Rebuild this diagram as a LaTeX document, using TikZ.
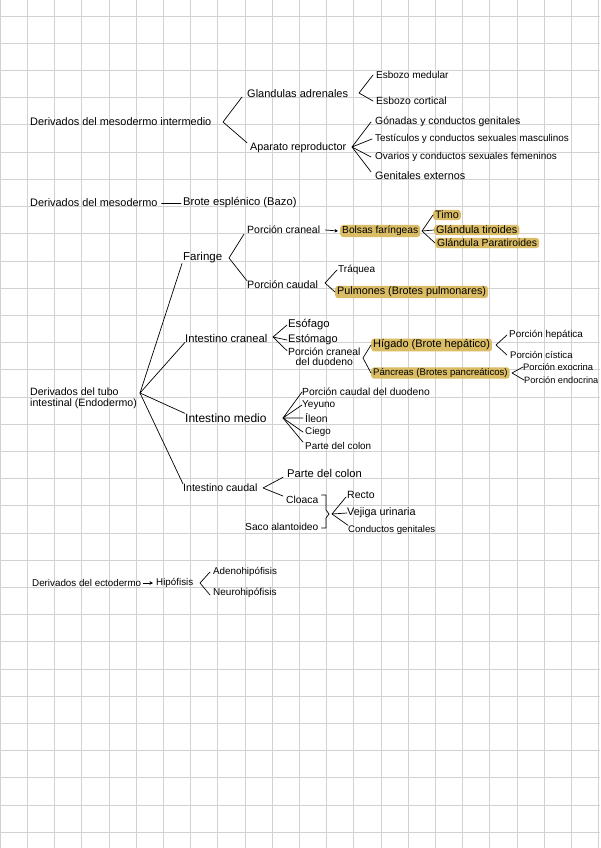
\documentclass[tikz,border=0pt]{standalone}
\usepackage{fontspec}
\setmainfont{Liberation Sans}
\usetikzlibrary{arrows.meta,positioning}
\definecolor{GridC}{RGB}{210,210,210}
\definecolor{HiGold}{RGB}{217,188,99}
\tikzset{
  lbl/.style={anchor=west,inner sep=0pt,font=\fontsize{#1}{#1}\selectfont},
  lbl/.default=10,
  hl/.style={fill=HiGold,rounded corners=3pt,inner xsep=2pt,inner ysep=1.2pt},
  gridln/.style={GridC,line width=0.6pt},
  link/.style={line width=0.7pt,line cap=round,line join=round},
  arr/.style={link,-{Stealth[length=3.5pt,width=3.5pt]}},
}

\begin{document}
\begin{tikzpicture}[x=1pt,y=-1pt]
  \useasboundingbox (0,0) rectangle (600,848);
  \fill[white] (0,0) rectangle (600,848);
  % grid paper
  \foreach \gx in {0,...,22} \draw[gridln] (\gx*27.2,0) -- (\gx*27.2,848);
  \foreach \gy in {0,...,30} \draw[gridln] (0,16+\gy*27.2) -- (600,16+\gy*27.2);

  % mesodermo intermedio
  \node[lbl=10.9] (mi)  at (30,122)  {Derivados del mesodermo intermedio};
  \node[lbl=11]   (ga)  at (247,94)  {Glandulas adrenales};
  \node[lbl=10.8] (ap)  at (250,148) {Aparato reproductor};
  \node[lbl=10]   (em)  at (376,75)  {Esbozo medular};
  \node[lbl=10.4] (ec)  at (376,101) {Esbozo cortical};
  \node[lbl=10.4] (gon) at (375,122) {Gónadas y conductos genitales};
  \node[lbl=9.9]  (tes) at (375,139) {Testículos y conductos sexuales masculinos};
  \node[lbl=10]   (ova) at (375,157) {Ovarios y conductos sexuales femeninos};
  \node[lbl=10.8] (gen) at (375,176) {Genitales externos};
  \coordinate (miT) at (223,122);
  \coordinate (gaT) at (359,93);
  \coordinate (apT) at (352,147);
  \draw[link] ([xshift=-5pt,yshift=-3pt]ga.west) -- (miT) -- ([xshift=-3pt]ap.north west);
  \draw[link] ([xshift=-3pt]em.west) -- (gaT) -- ([xshift=-3pt]ec.west);
  \draw[link] ([xshift=-4pt]gon.west) -- (apT) -- ([xshift=-3pt]tes.west);
  \draw[link] ([xshift=-4pt]ova.west) -- (apT) -- ([xshift=-4pt]gen.north west);

  % mesodermo
  \node[lbl=10.9] (md) at (30,203)  {Derivados del mesodermo};
  \node[lbl=11.2] (be) at (183,203) {Brote esplénico (Bazo)};
  \draw[link] ([xshift=4pt]md.east) -- ([xshift=-2pt]be.west);

  % tubo intestinal
  \node[lbl=10.6,align=left] (en) at (30,398) {Derivados del tubo\\intestinal (Endodermo)};
  \node[lbl=11.5] (fa) at (183,258) {Faringe};
  \node[lbl=11.2] (ic) at (185,338) {Intestino craneal};
  \node[lbl=12]   (im) at (185,418) {Intestino medio};
  \node[lbl=10.6] (ik) at (183,488) {Intestino caudal};
  \coordinate (enT) at (140,393);
  \draw[link] ([xshift=-1pt]fa.south west) -- (enT) -- (ik.north west);
  \draw[link] (ic.south west) -- (enT) -- (im.north west);

  % faringe
  \node[lbl=10.5]    (pc) at (247,230) {Porción craneal};
  \node[lbl=10.7]    (pd) at (247,285) {Porción caudal};
  \node[lbl=10.2,hl] (bf) at (340,231) {Bolsas faríngeas};
  \node[lbl=10.8,hl] (ti) at (433,215) {Timo};
  \node[lbl=10.8,hl] (gt) at (434,230) {Glándula tiroides};
  \node[lbl=10.4,hl] (gp) at (435,243) {Glándula Paratiroides};
  \node[lbl=10]      (tr) at (338,270) {Tráquea};
  \node[lbl=10.8,hl] (pu) at (335,292) {Pulmones (Brotes pulmonares)};
  \coordinate (faT) at (229,258);
  \coordinate (bfT) at (422,231);
  \coordinate (pdT) at (325,283);
  \draw[link] ([xshift=-3pt]pc.south west) -- (faT) -- (pd.north west);
  \draw[arr] ([xshift=5pt]pc.east) -- ([xshift=-2pt]bf.west);
  \draw[link] (ti.west) -- (bfT) -- (gt.west);
  \draw[link] (gp.west) -- (bfT);
  \draw[link] ([xshift=-1pt]tr.west) -- (pdT) -- (pu.west);

  % intestino craneal
  \node[lbl=11.3] (es)  at (288,325) {Esófago};
  \node[lbl=11]   (et)  at (288,340) {Estómago};
  \node[lbl=10.4,align=center] (pcd) at (288,357) {Porción craneal\\del duodeno};
  \node[lbl=11,hl]  (hi) at (371,345) {Hígado (Brote hepático)};
  \node[lbl=9.6,hl] (pa) at (371,373) {Páncreas (Brotes pancreáticos)};
  \node[lbl=9.9] (ph)  at (509,335) {Porción hepática};
  \node[lbl=9.6] (pci) at (510,355) {Porción cística};
  \node[lbl=9.4] (pex) at (523,367) {Porción exocrina};
  \node[lbl=9.2] (pen) at (524,380) {Porción endocrina};
  \coordinate (icT)  at (273,337);
  \coordinate (pcdT) at (363,358);
  \coordinate (hiT)  at (496,345);
  \coordinate (paT)  at (512,373);
  \draw[link] ([xshift=-1pt]es.west) -- (icT) -- ([xshift=-1pt]et.west);
  \draw[link] ([xshift=-1pt,yshift=-3pt]pcd.north west) -- (icT);
  \draw[link] (hi.west) -- (pcdT) -- (pa.west);
  \draw[link] ([xshift=-2pt]ph.west) -- (hiT) -- ([xshift=-3pt]pci.west);
  \draw[link] (pex.west) -- (paT) -- (pen.west);

  % intestino medio
  \node[lbl=10.3] (pcdd) at (302,392) {Porción caudal del duodeno};
  \node[lbl=10]   (ye)   at (302,405) {Yeyuno};
  \node[lbl=10.4] (il)   at (305,418) {Íleon};
  \node[lbl=9.8]  (ci)   at (305,432) {Ciego};
  \node[lbl=9.9]  (pcol) at (305,446) {Parte del colon};
  \coordinate (imT) at (283,418);
  \draw[link] (pcdd.west) -- (imT) -- (ye.west);
  \draw[link] ([xshift=-2pt]il.west) -- (imT) -- ([xshift=-2pt]ci.west);
  \draw[link] ([xshift=-2pt]pcol.north west) -- (imT);

  % intestino caudal
  \node[lbl=11.2] (pco2) at (287,473) {Parte del colon};
  \node[lbl=10.3] (cl)   at (286,500) {Cloaca};
  \node[lbl=10.2] (sa)   at (245,527) {Saco alantoideo};
  \node[lbl=10.5] (re)   at (347,495) {Recto};
  \node[lbl=10.8] (vu)   at (347,513) {Vejiga urinaria};
  \node[lbl=9.6]  (cg)   at (348,530) {Conductos genitales};
  \coordinate (ikT) at (263,488);
  \coordinate (brT) at (332,514);
  \draw[link] ([xshift=-4pt]pco2.south west) -- (ikT) -- ([xshift=-3pt]cl.north west);
  \draw[link] ([xshift=3pt,yshift=5pt]cl.east) -- (326,495) -- (326,510) -- (329,514)
              -- (326,518) -- (326,528) -- ([xshift=3pt,yshift=-1pt]sa.east);
  \draw[link] ([xshift=-1pt,yshift=-2pt]re.west) -- (brT) -- (vu.west);
  \draw[link] (cg.north west) -- (brT);

  % ectodermo
  \node[lbl=9.8]  (ed) at (32,583)  {Derivados del ectodermo};
  \node[lbl=9.8]  (hp) at (156,583) {Hipófisis};
  \node[lbl=9.8]  (ad) at (213,572) {Adenohipófisis};
  \node[lbl=10]   (ne) at (213,593) {Neurohipófisis};
  \coordinate (hpT) at (200,583);
  \draw[arr] ([xshift=2pt]ed.east) -- ([xshift=-3pt]hp.west);
  \draw[link] ([xshift=-3pt]ad.west) -- (hpT) -- ([xshift=-3pt,yshift=-2pt]ne.west);
\end{tikzpicture}
\end{document}
